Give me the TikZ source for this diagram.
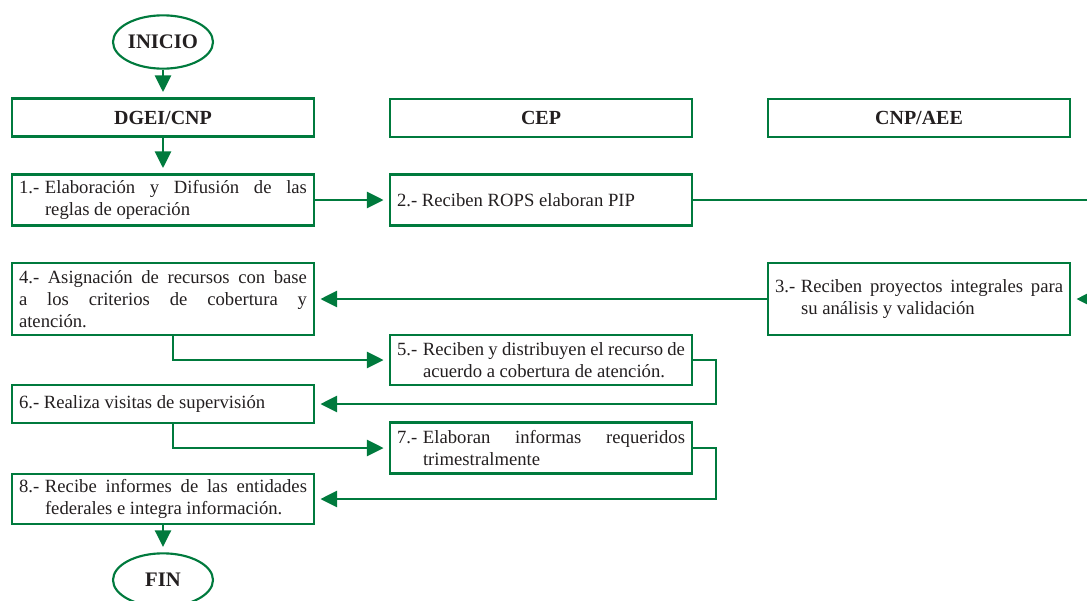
\documentclass[tikz,border=0pt]{standalone}
\usepackage{fontspec}
\setmainfont{Liberation Serif}
\usepackage{xcolor}
\usetikzlibrary{shapes.geometric, arrows.meta, positioning, calc}

\definecolor{verde}{RGB}{0,122,61}
\definecolor{texto}{RGB}{35,31,32}

% numero de paso con sangria francesa
\newcommand{\paso}[2]{\hangindent=19.5pt\hangafter=1\noindent\makebox[19.5pt][l]{#1}#2\par}

\tikzset{
    caja/.style={draw=verde, line width=1.6pt, rectangle, text width=216pt, inner xsep=5.25pt, inner ysep=2pt,
        align=justify, text=texto, font=\fontsize{14}{16.5}\selectfont},
    titulo/.style={caja, align=center, minimum height=28.5pt, font=\fontsize{15}{16.5}\selectfont\bfseries},
    terminal/.style={draw=verde, line width=1.6pt, ellipse, inner sep=0pt, minimum width=75pt, minimum height=40pt,
        text=texto, font=\fontsize{15.5}{16.5}\selectfont\bfseries},
    flecha/.style={draw=verde, line width=2pt, -{Triangle[length=12.5pt,width=12pt]}, shorten >=4pt},
    linea/.style={draw=verde, line width=2pt}
}

\begin{document}
\begin{tikzpicture}[x=0.75pt, y=-0.75pt]
    \useasboundingbox (0,0) rectangle (1087,600);
    \clip (0,0) rectangle (1087,600);

    % Inicio
    \node[terminal] (inicio) at (163,42) {INICIO};

    % Encabezados
    \node[titulo] (dgei) at (163,117.5) {DGEI/CNP};
    \node[titulo] (cep) at (541,118) {CEP};
    \node[titulo] (cnp) at (919,118) {CNP/AEE};

    % Pasos
    \node[caja, minimum height=38.25pt] (p1) at (163,200)
        {\paso{1.-}{Elaboración y Difusión de las\linebreak reglas de operación}};
    \node[caja, minimum height=38.25pt] (p2) at (541,200) {2.- Reciben ROPS elaboran PIP};
    \node[caja, minimum height=54pt] (p3) at (919,299)
        {\paso{3.-}{Reciben proyectos integrales para\linebreak su análisis y validación}};
    \node[caja, minimum height=54pt] (p4) at (163,299)
        {4.- Asignación de recursos con base\linebreak a los criterios de cobertura y\linebreak atención.};
    \node[caja, minimum height=37.5pt] (p5) at (541,360)
        {\paso{5.-}{Reciben y distribuyen el recurso de\linebreak acuerdo a cobertura de atención.}};
    \node[caja, minimum height=28.5pt] (p6) at (163,404) {6.- Realiza visitas de supervisión};
    \node[caja, minimum height=38.25pt] (p7) at (541,448)
        {\paso{7.-}{Elaboran informas requeridos\linebreak trimestralmente}};
    \node[caja, minimum height=37.5pt] (p8) at (163,499)
        {\paso{8.-}{Recibe informes de las entidades\linebreak federales e integra información.}};

    % Fin
    \node[terminal] (fin) at (163,580) {FIN};

    % Conexiones fuera del margen derecho
    \coordinate (salida) at (1100,200);
    \coordinate (entrada) at (1100,299);

    % Flechas
    \draw[flecha] (inicio) -- (dgei);
    \draw[flecha] (dgei) -- (p1);
    \draw[flecha] (p1) -- (p2);
    \draw[linea] (p2.east) -- (salida);
    \draw[flecha] (entrada) -- (p3.east);
    \draw[flecha] (p3) -- (p4);
    \draw[flecha] ([xshift=7.5pt]p4.south) |- (p5.west);
    \draw[flecha] (p5.east) -- ++(17.25pt,0) |- (p6.east);
    \draw[flecha] ([xshift=7.5pt]p6.south) |- (p7.west);
    \draw[flecha] (p7.east) -- ++(17.25pt,0) |- (p8.east);
    \draw[flecha] (p8) -- (fin);
\end{tikzpicture}
\end{document}
